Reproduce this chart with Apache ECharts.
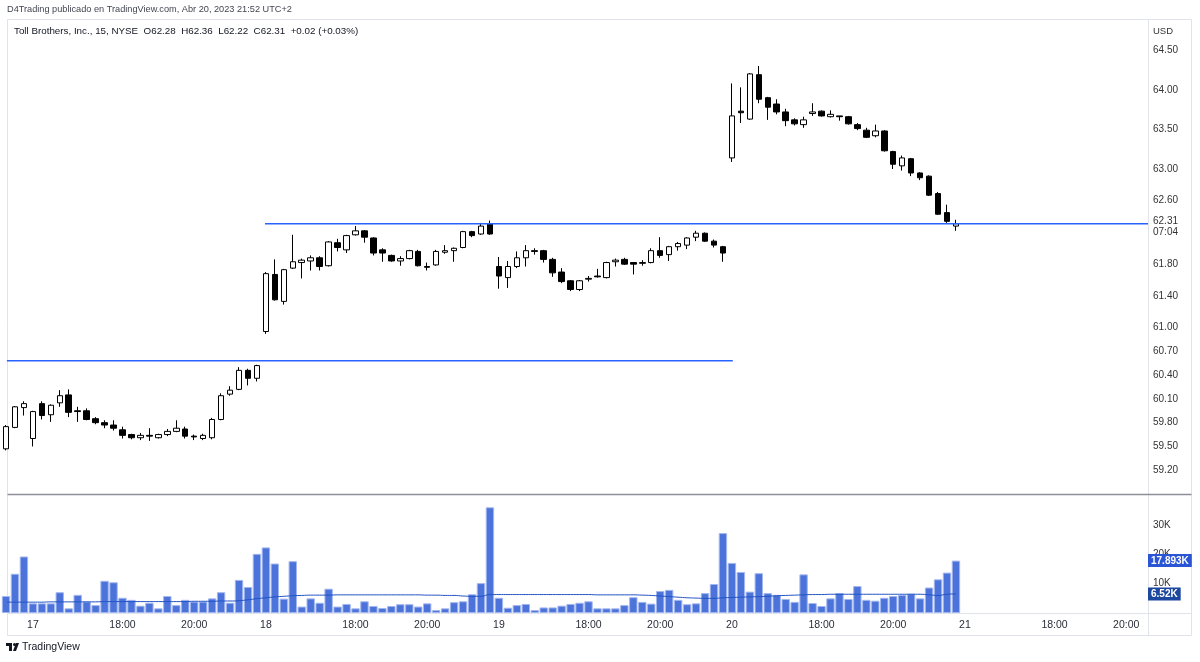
<!DOCTYPE html>
<html>
<head>
<meta charset="utf-8">
<script src="https://cdn.jsdelivr.net/npm/echarts@6/dist/echarts.min.js"></script>
<style>
  html, body { margin: 0; background: #fff; }
  #chart { width: 1200px; height: 662px; }
</style>
</head>
<body>
<div id="chart"></div>
<script>
// velas de 15 min, [open, close, low, high]
var day14 = [
  [59.47, 59.75, 59.45, 59.77], [59.74, 60.00, 59.73, 60.01], [59.99, 60.04, 59.89, 60.07]
];
var day17 = [
  [59.60, 59.94, 59.50, 59.95], [60.04, 59.89, 59.84, 60.07], [59.90, 60.02, 59.81, 60.03],
  [60.05, 60.14, 60.00, 60.21], [60.15, 59.93, 59.87, 60.22], [59.95, 59.94, 59.81, 60.00],
  [59.95, 59.84, 59.83, 59.98], [59.85, 59.80, 59.78, 59.87], [59.80, 59.77, 59.73, 59.83],
  [59.77, 59.73, 59.70, 59.83], [59.71, 59.64, 59.60, 59.75], [59.65, 59.61, 59.59, 59.66],
  [59.61, 59.64, 59.58, 59.67], [59.64, 59.63, 59.57, 59.73], [59.61, 59.65, 59.60, 59.66],
  [59.65, 59.69, 59.63, 59.72], [59.69, 59.73, 59.68, 59.83], [59.72, 59.63, 59.60, 59.75],
  [59.63, 59.62, 59.58, 59.65], [59.60, 59.64, 59.58, 59.66], [59.61, 59.84, 59.59, 59.86],
  [59.84, 60.14, 59.83, 60.17], [60.16, 60.21, 60.14, 60.26], [60.22, 60.46, 60.21, 60.50],
  [60.46, 60.36, 60.27, 60.48], [60.36, 60.52, 60.32, 60.53]
];
var day18 = [
  [60.95, 61.68, 60.92, 61.70], [61.67, 61.35, 61.34, 61.86], [61.33, 61.73, 61.29, 61.74],
  [61.75, 61.83, 61.74, 62.17], [61.82, 61.85, 61.62, 61.87], [61.84, 61.88, 61.72, 61.91],
  [61.88, 61.77, 61.72, 61.90], [61.78, 62.08, 61.77, 62.09], [62.07, 62.01, 61.96, 62.12],
  [61.98, 62.16, 61.94, 62.17], [62.17, 62.22, 62.16, 62.28], [62.22, 62.14, 62.07, 62.23],
  [62.13, 61.94, 61.91, 62.14], [61.98, 61.94, 61.83, 62.00], [61.91, 61.84, 61.83, 61.92],
  [61.84, 61.87, 61.78, 61.90], [61.87, 61.97, 61.86, 61.98], [61.96, 61.78, 61.77, 61.98],
  [61.77, 61.76, 61.72, 61.82], [61.79, 61.96, 61.78, 61.98], [61.95, 61.97, 61.93, 62.04],
  [61.97, 62.00, 61.83, 62.01], [62.01, 62.21, 62.00, 62.22], [62.21, 62.16, 62.14, 62.22],
  [62.18, 62.28, 62.17, 62.32], [62.31, 62.18, 62.17, 62.35]
];
var day19 = [
  [61.77, 61.65, 61.49, 61.89], [61.63, 61.77, 61.50, 61.84], [61.77, 61.88, 61.75, 61.96],
  [61.88, 61.97, 61.77, 62.04], [61.97, 61.96, 61.92, 62.00], [61.97, 61.86, 61.82, 61.98],
  [61.86, 61.69, 61.64, 61.88], [61.70, 61.58, 61.56, 61.75], [61.59, 61.48, 61.46, 61.60],
  [61.48, 61.59, 61.46, 61.60], [61.61, 61.62, 61.58, 61.65], [61.65, 61.64, 61.63, 61.74],
  [61.63, 61.82, 61.62, 61.83], [61.83, 61.85, 61.77, 61.87], [61.86, 61.80, 61.79, 61.88],
  [61.82, 61.80, 61.67, 61.82], [61.81, 61.82, 61.78, 61.85], [61.82, 61.97, 61.81, 62.00],
  [61.97, 61.91, 61.88, 62.14], [61.92, 62.02, 61.84, 62.03], [62.02, 62.06, 61.97, 62.08],
  [62.04, 62.13, 61.99, 62.14], [62.14, 62.19, 62.09, 62.22], [62.19, 62.09, 62.08, 62.20],
  [62.09, 62.04, 62.01, 62.11], [62.02, 61.94, 61.83, 62.03]
];
var day20 = [
  [63.14, 63.67, 63.09, 64.08], [63.73, 63.71, 63.58, 64.03], [63.63, 64.20, 63.62, 64.21],
  [64.19, 63.88, 63.83, 64.30], [63.90, 63.78, 63.62, 63.91], [63.82, 63.72, 63.69, 63.88],
  [63.72, 63.61, 63.54, 63.76], [63.62, 63.57, 63.55, 63.64], [63.56, 63.62, 63.52, 63.66],
  [63.70, 63.72, 63.67, 63.83], [63.73, 63.67, 63.66, 63.74], [63.66, 63.69, 63.65, 63.74],
  [63.67, 63.66, 63.61, 63.67], [63.66, 63.57, 63.56, 63.67], [63.56, 63.51, 63.49, 63.58],
  [63.49, 63.40, 63.39, 63.52], [63.42, 63.48, 63.40, 63.56], [63.48, 63.23, 63.22, 63.49],
  [63.22, 63.06, 63.00, 63.23], [63.04, 63.14, 62.98, 63.17], [63.13, 62.95, 62.91, 63.14],
  [62.95, 62.89, 62.86, 62.96], [62.91, 62.67, 62.66, 62.92], [62.69, 62.43, 62.42, 62.71],
  [62.45, 62.34, 62.32, 62.55], [62.28, 62.31, 62.22, 62.36]
];

// volumen (miles) y su media
var volumeK = [
  5.8, 13.4, 19.3, 3.3, 3.3, 3.3, 7.1, 1.6, 6.2, 3.9,
  2.7, 11.0, 10.5, 5.2, 4.5, 2.5, 3.5, 1.6, 5.8, 2.7,
  4.5, 3.9, 3.9, 5.0, 7.1, 3.5, 11.3, 8.9, 20.2, 22.4,
  16.9, 4.9, 17.7, 2.2, 5.0, 3.5, 8.3, 2.2, 3.1, 1.6,
  4.0, 2.4, 1.7, 2.4, 3.0, 3.0, 2.2, 3.3, 1.0, 1.6,
  3.7, 4.0, 6.4, 10.2, 36.1, 5.2, 1.8, 2.7, 3.1, 1.0,
  1.9, 1.9, 2.5, 3.1, 3.5, 4.0, 1.6, 1.6, 1.6, 2.7,
  5.4, 3.8, 3.2, 7.5, 7.9, 4.5, 3.0, 3.3, 6.8, 9.9,
  27.3, 17.1, 14.0, 7.3, 13.6, 6.8, 6.2, 4.8, 3.8, 13.2,
  3.4, 2.4, 5.0, 6.8, 4.8, 9.2, 4.5, 4.2, 5.2, 5.8,
  6.2, 6.6, 5.0, 8.7, 11.5, 13.8, 17.893
];
var volumeMaK = [
  3.7, 3.7, 3.7, 3.7, 3.7, 3.8, 3.8, 3.8, 3.8, 3.8,
  3.8, 3.9, 3.9, 3.9, 3.9, 3.9, 3.9, 3.9, 3.9, 3.9,
  3.9, 4.0, 4.0, 4.0, 4.1, 4.1, 4.2, 4.5, 4.9, 5.2,
  5.5, 5.7, 5.9, 6.0, 6.1, 6.1, 6.1, 6.2, 6.2, 6.2,
  6.2, 6.2, 6.2, 6.2, 6.2, 6.2, 6.2, 6.1, 6.1, 6.0,
  6.0, 5.8, 5.7, 5.7, 6.3, 6.3, 6.3, 6.3, 6.3, 6.3,
  6.3, 6.3, 6.3, 6.3, 6.3, 6.3, 6.2, 6.2, 6.2, 6.2,
  6.2, 6.1, 6.0, 5.8, 5.6, 5.4, 5.2, 5.1, 5.0, 5.0,
  5.2, 5.3, 5.4, 5.5, 5.6, 5.7, 5.9, 6.0, 6.1, 6.2,
  6.3, 6.3, 6.4, 6.4, 6.4, 6.4, 6.4, 6.4, 6.4, 6.4,
  6.4, 6.4, 6.4, 6.2, 6.0, 6.4, 6.52
];

var priceTicks = [64.5, 64, 63.5, 63, 62.6, 61.8, 61.4, 61, 60.7, 60.4, 60.1, 59.8, 59.5, 59.2];
var volumeTicks = [10, 20, 30];
var timeTickIdx = [3, 13, 21, 29, 39, 47, 55, 65, 73, 81, 91, 99, 107, 117, 125];
var timeTickLabels = ['17', '18:00', '20:00', '18', '18:00', '20:00', '19', '18:00', '20:00',
                      '20', '18:00', '20:00', '21', '18:00', '20:00'];
var lastPrice = 62.31, lastTimer = '07:04';
var lastVolume = 17.893, lastVolumeMa = 6.52;
// niveles dibujados: [desde barra, hasta barra, precio]
var levelUpper = [28.9, 127.43, 62.31];
var levelLower = [0.1, 81.1, 60.58];

var xMin = 0.167, xMax = 127.43;
var font = '"Liberation Sans", Arial, sans-serif';

var candles = day14.concat(day17, day18, day19, day20).map(function (c, i) {
  return [i, c[0], c[1], c[2], c[3]];
});
var volData = volumeK.map(function (v, i) { return [i, v]; });
var maData = volumeMaK.map(function (v, i) { return [i, v]; });

var chart = echarts.init(document.getElementById('chart'));
chart.setOption({
  animation: false,
  backgroundColor: '#fff',
  textStyle: { fontFamily: font },
  grid: [
    { left: 7.5, right: 52, top: 20, height: 474 },
    { left: 7.5, right: 52, top: 495, height: 118 }
  ],
  xAxis: [
    { type: 'value', gridIndex: 0, min: xMin, max: xMax, show: false },
    {
      type: 'value', gridIndex: 1, min: xMin, max: xMax,
      axisLine: { show: false },
      axisTick: { show: false },
      splitLine: { show: false },
      axisLabel: {
        customValues: timeTickIdx,
        margin: 7,
        fontSize: 10.5,
        color: '#2a2e39',
        formatter: function (v) {
          var k = timeTickIdx.indexOf(v);
          return k < 0 ? '' : timeTickLabels[k];
        }
      }
    }
  ],
  yAxis: [
    {
      type: 'value', gridIndex: 0, min: 58.90, max: 64.88, position: 'right',
      axisLine: { show: false }, axisTick: { show: false }, splitLine: { show: false },
      axisLabel: {
        customValues: priceTicks, margin: 5, fontSize: 10, color: '#333',
        formatter: function (v) { return v.toFixed(2); }
      }
    },
    {
      type: 'value', gridIndex: 0, min: 58.90, max: 64.88, position: 'right',
      axisLine: { show: false }, axisTick: { show: false }, splitLine: { show: false },
      axisLabel: {
        customValues: [lastPrice], margin: 5,
        formatter: function (v) { return '{s| }\n{t|' + v.toFixed(2) + '}\n{t|' + lastTimer + '}'; },
        rich: {
          s: { fontSize: 1, lineHeight: 6 },
          t: { fontSize: 10, lineHeight: 11, color: '#333', backgroundColor: '#fff', padding: [0, 4, 0, 0] }
        }
      }
    },
    {
      type: 'value', gridIndex: 1, min: 0, max: 40.3, position: 'right',
      axisLine: { show: false }, axisTick: { show: false }, splitLine: { show: false },
      axisLabel: {
        customValues: volumeTicks, margin: 5, fontSize: 10, color: '#333',
        formatter: function (v) { return v + 'K'; }
      }
    },
    {
      type: 'value', gridIndex: 1, min: 0, max: 40.3, position: 'right',
      axisLine: { show: false }, axisTick: { show: false }, splitLine: { show: false },
      axisLabel: {
        customValues: [lastVolume, lastVolumeMa], margin: 0,
        formatter: function (v) {
          return v === lastVolume ? '{a|' + v + 'K}' : '{b|' + v + 'K}';
        },
        rich: {
          a: { backgroundColor: '#2a55d5', color: '#fff', fontSize: 10, fontWeight: 'bold', padding: [2, 3, 1, 3] },
          b: { backgroundColor: '#1c479f', color: '#fff', fontSize: 10, fontWeight: 'bold', padding: [2, 3, 1, 3] }
        }
      }
    }
  ],
  series: [
    {
      type: 'candlestick', xAxisIndex: 0, yAxisIndex: 0,
      data: candles,
      encode: { x: 0, y: [1, 2, 3, 4] },
      barWidth: 6,
      itemStyle: {
        color: '#ffffff', color0: '#000000',
        borderColor: '#000000', borderColor0: '#000000', borderWidth: 1
      },
      silent: true
    },
    {
      type: 'line', xAxisIndex: 0, yAxisIndex: 0, silent: true, symbol: 'none',
      data: [[levelUpper[0], levelUpper[2]], [levelUpper[1], levelUpper[2]]],
      lineStyle: { color: '#2962ff', width: 1.5 }
    },
    {
      type: 'line', xAxisIndex: 0, yAxisIndex: 0, silent: true, symbol: 'none',
      data: [[levelLower[0], levelLower[2]], [levelLower[1], levelLower[2]]],
      lineStyle: { color: '#2962ff', width: 1.5 }
    },
    {
      type: 'bar', xAxisIndex: 1, yAxisIndex: 2,
      data: volData, barWidth: 8.4, silent: true,
      itemStyle: { color: '#4c73da', borderColor: '#a3b7ef', borderWidth: 1 }
    },
    {
      type: 'line', xAxisIndex: 1, yAxisIndex: 2, silent: true, symbol: 'none',
      data: maData, smooth: true,
      lineStyle: { color: '#2152c4', width: 1 }
    }
  ],
  graphic: [
    {
      type: 'text', left: 7, top: 5,
      style: { text: 'D4Trading publicado en TradingView.com, Abr 20, 2023 21:52 UTC+2', fontSize: 9.2, fill: '#434651', fontFamily: font }
    },
    {
      type: 'rect', silent: true, z: -1,
      shape: { x: 7.5, y: 19.5, width: 1184, height: 616 },
      style: { fill: 'none', stroke: '#e0e3eb', lineWidth: 1 }
    },
    {
      type: 'line', silent: true,
      shape: { x1: 1148.5, y1: 19.5, x2: 1148.5, y2: 635.5 },
      style: { stroke: '#e0e3eb', lineWidth: 1 }
    },
    {
      type: 'line', silent: true,
      shape: { x1: 7.5, y1: 613.5, x2: 1191.5, y2: 613.5 },
      style: { stroke: '#e0e3eb', lineWidth: 1 }
    },
    {
      type: 'line', silent: true,
      shape: { x1: 7.5, y1: 494.5, x2: 1191.5, y2: 494.5 },
      style: { stroke: '#8c8f97', lineWidth: 1.5 }
    },
    {
      type: 'text', left: 14, top: 26,
      style: { text: 'Toll Brothers, Inc., 15, NYSE  O62.28  H62.36  L62.22  C62.31  +0.02 (+0.03%)', fontSize: 9.8, fill: '#131722', fontFamily: font }
    },
    {
      type: 'text', left: 1153, top: 26,
      style: { text: 'USD', fontSize: 9.5, fill: '#333', fontFamily: font }
    },
    {
      type: 'group', left: 6, top: 643,
      children: [
        { type: 'rect', shape: { x: 0, y: 0, width: 6, height: 3 }, style: { fill: '#131722' } },
        { type: 'rect', shape: { x: 3, y: 0, width: 3, height: 8 }, style: { fill: '#131722' } },
        { type: 'circle', shape: { cx: 8.5, cy: 1.5, r: 1.5 }, style: { fill: '#131722' } },
        { type: 'polygon', shape: { points: [[7, 8], [10, 0], [13, 0], [10, 8]] }, style: { fill: '#131722' } }
      ]
    },
    {
      type: 'text', left: 22, top: 642,
      style: { text: 'TradingView', fontSize: 10.5, fill: '#131722', fontFamily: font }
    }
  ]
});
</script>
</body>
</html>
